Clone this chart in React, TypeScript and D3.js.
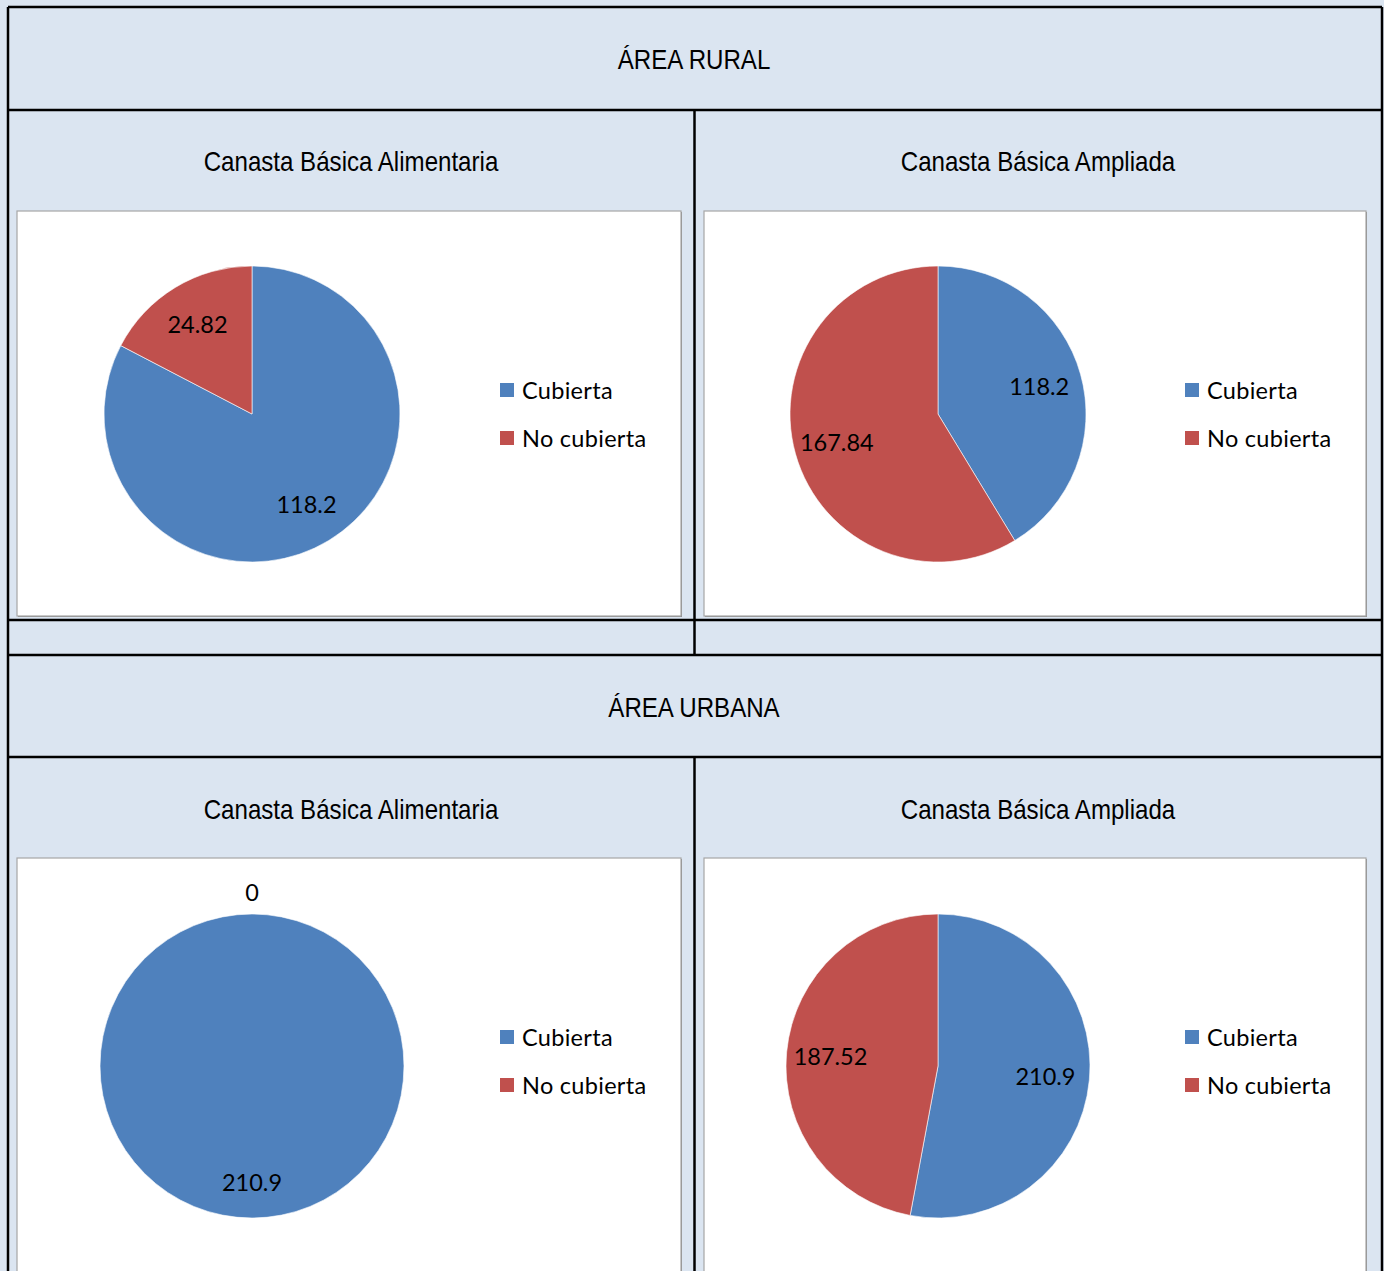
import React from 'react';
import * as d3 from 'd3';

// categorías y valores de cada canasta
const categories = ['Cubierta', 'No cubierta'];
const colors = ['#4F81BD', '#C0504D'];

const ruralAlimentaria = [118.2, 24.82];
const ruralAmpliada = [118.2, 167.84];
const urbanaAlimentaria = [210.9, 0];
const urbanaAmpliada = [210.9, 187.52];

const sectionTitles = ['ÁREA RURAL', 'ÁREA URBANA'];
const chartTitles = ['Canasta Básica Alimentaria', 'Canasta Básica Ampliada'];

const W = 1384;
const H = 1271;
const BG = '#DBE5F1';
const NARROW = "'Liberation Sans', Arial, sans-serif";
const LABEL_FONT = "Lato, 'Open Sans', sans-serif";

interface PieBoxProps {
  x: number;
  y: number;
  w: number;
  h: number;
  values: number[];
  radius: number;
  cx: number;
  cy: number;
}

const PieBox: React.FC<PieBoxProps> = ({ x, y, w, h, values, radius, cx, cy }) => {
  const pie = d3.pie<number>().sort(null).value(d => d);
  const arcs = pie(values);
  const arc = d3.arc<d3.PieArcDatum<number>>().innerRadius(0).outerRadius(radius);
  const labelArc = d3.arc<d3.PieArcDatum<number>>()
    .innerRadius(radius * 0.71)
    .outerRadius(radius * 0.71);
  // un sector que ocupa todo el círculo lleva la etiqueta algo más afuera
  const fullArc = d3.arc<d3.PieArcDatum<number>>()
    .innerRadius(radius * 0.76)
    .outerRadius(radius * 0.76);

  return (
    <g>
      {/* sombra y borde del área del gráfico */}
      <rect x={x + 1} y={y + 1} width={w} height={h} fill="#8a8a8a" />
      <rect x={x} y={y} width={w} height={h} fill="#fff" stroke="#a6a6a6" strokeWidth={1.2} />
      <g transform={`translate(${x + cx},${y + cy})`}>
        {arcs.map((a, i) => (
          a.value > 0 ? (
            <path key={i} d={arc(a) || ''} fill={colors[i]} stroke="#fff" strokeWidth={0.6} />
          ) : null
        ))}
        {arcs.map((a, i) => {
          let px: number;
          let py: number;
          if (a.value === 0) {
            const ang = a.startAngle;
            px = Math.sin(ang) * (radius + 22);
            py = -Math.cos(ang) * (radius + 22);
          } else if (a.endAngle - a.startAngle > Math.PI * 1.99) {
            [px, py] = fullArc.centroid(a);
          } else {
            [px, py] = labelArc.centroid(a);
          }
          return (
            <text
              key={'l' + i}
              x={px}
              y={py}
              textAnchor="middle"
              dominantBaseline="central"
              fontFamily={LABEL_FONT}
              fontSize={23.5}
              fill="#000"
            >
              {String(values[i])}
            </text>
          );
        })}
      </g>
      <g transform={`translate(${x + w - 181},${y + 179})`}>
        {categories.map((c, i) => (
          <g key={c} transform={`translate(0,${i * 48})`}>
            <rect x={0} y={-7} width={14} height={14} fill={colors[i]} />
            <text
              x={22}
              y={0}
              dominantBaseline="central"
              fontFamily={LABEL_FONT}
              fontSize={23.5}
              letterSpacing={0.3}
              fill="#000"
            >
              {c}
            </text>
          </g>
        ))}
      </g>
    </g>
  );
};

const NarrowText: React.FC<{ x: number; y: number; size: number; children: string }> = ({ x, y, size, children }) => (
  <text
    transform={`translate(${x},${y}) scale(0.846,1)`}
    textAnchor="middle"
    dominantBaseline="central"
    fontFamily={NARROW}
    fontSize={size}
    fill="#000"
  >
    {children}
  </text>
);

export default function App() {
  const left = 8;
  const right = 1382;
  const mid = 694.5;
  const rows = [7, 110, 620, 655, 757];

  return (
    <svg
      width={W}
      height={H}
      style={{ position: 'absolute', left: 0, top: 0, display: 'block' }}
    >
      <rect x={0} y={0} width={W} height={H} fill={BG} />

      <NarrowText x={694} y={59} size={28.5}>{sectionTitles[0]}</NarrowText>
      <NarrowText x={351} y={161} size={28.5}>{chartTitles[0]}</NarrowText>
      <NarrowText x={1038} y={161} size={28.5}>{chartTitles[1]}</NarrowText>

      <NarrowText x={694} y={707} size={28.5}>{sectionTitles[1]}</NarrowText>
      <NarrowText x={351} y={809} size={28.5}>{chartTitles[0]}</NarrowText>
      <NarrowText x={1038} y={809} size={28.5}>{chartTitles[1]}</NarrowText>

      <PieBox x={17} y={211} w={664} h={405} values={ruralAlimentaria} radius={148} cx={235} cy={203} />
      <PieBox x={704} y={211} w={662} h={405} values={ruralAmpliada} radius={148} cx={234} cy={203} />
      <PieBox x={17} y={858} w={664} h={425} values={urbanaAlimentaria} radius={152} cx={235} cy={208} />
      <PieBox x={704} y={858} w={662} h={425} values={urbanaAmpliada} radius={152} cx={234} cy={208} />

      {/* líneas de la tabla */}
      <g stroke="#000" strokeWidth={2.5} fill="none">
        <line x1={left} y1={rows[0]} x2={left} y2={H + 5} />
        <line x1={right} y1={rows[0]} x2={right} y2={H + 5} />
        {rows.map(r => (
          <line key={r} x1={left} y1={r} x2={right} y2={r} />
        ))}
        <line x1={mid} y1={rows[1]} x2={mid} y2={rows[3]} />
        <line x1={mid} y1={rows[4]} x2={mid} y2={H + 5} />
      </g>
    </svg>
  );
}
